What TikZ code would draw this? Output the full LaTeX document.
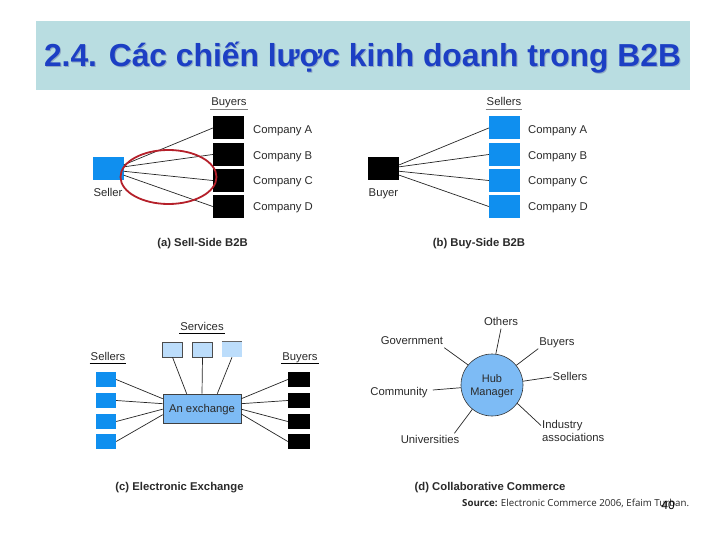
\documentclass[tikz,border=0pt]{standalone}
\usepackage{fontspec}
\setmainfont{Liberation Sans}
\newfontfamily\srcfont{Open Sans}
\definecolor{bandcol}{HTML}{B9DDE1}
\definecolor{titlecol}{HTML}{1C3FC4}
\definecolor{shadowcol}{HTML}{8FA9C4}
\definecolor{sqblue}{HTML}{0F8FEF}
\definecolor{svcblue}{HTML}{BCDDFB}
\definecolor{exblue}{HTML}{7DBBF5}
\definecolor{ringred}{HTML}{B5202A}
\definecolor{txtgray}{HTML}{2A2A2A}
\tikzset{
  lbl/.style={inner sep=1pt,text height=8.5pt,text depth=2.5pt,font=\fontsize{11.3}{13}\selectfont,text=txtgray},
  capt/.style={inner sep=1pt,text height=8.5pt,text depth=2.5pt,font=\fontsize{11.3}{13}\selectfont\bfseries,text=txtgray},
  multi/.style={lbl,text height=,text depth=},
  bigblack/.style={fill=black,minimum width=31pt,minimum height=23pt,inner sep=0pt},
  bigblue/.style={fill=sqblue,minimum width=31pt,minimum height=23pt,inner sep=0pt},
  smallblack/.style={fill=black,minimum width=22pt,minimum height=15pt,inner sep=0pt},
  smallblue/.style={fill=sqblue,minimum width=20pt,minimum height=15pt,inner sep=0pt},
  svc/.style={fill=svcblue,draw=black!70,line width=0.5pt,minimum width=20pt,minimum height=15pt,inner sep=0pt},
  wire/.style={line width=0.7pt,black!85},
  rulegray/.style={line width=1.6pt,black!50},
  rulethin/.style={line width=0.6pt,black}
}
\begin{document}
\begin{tikzpicture}[x=1pt,y=-1pt]
  \useasboundingbox (0,0) rectangle (720,540);
  \fill[white] (0,0) rectangle (720,540);
  \draw
    (363,55.5) node[inner sep=0pt,minimum width=654pt,minimum height=69pt,fill=bandcol] (band){}
    (363.5,58.5) node[font=\fontsize{31.8}{34}\selectfont\bfseries,text=shadowcol] (titleS){2.4. Các chiến lược kinh doanh trong B2B}
    (362.5,57.5) node[font=\fontsize{31.8}{34}\selectfont\bfseries,text=titlecol] (title){2.4. Các chiến lược kinh doanh trong B2B};
  \draw
    (229,103) node[lbl] (hA){Buyers}
    (228.5,128) node[bigblack] (a1){}
    (228.5,154.5) node[bigblack] (a2){}
    (228.5,180.5) node[bigblack] (a3){}
    (228.5,206.5) node[bigblack] (a4){}
    (108,168.5) node[bigblue] (sA){}
    (108,193.7) node[lbl] (tA){Seller}
    (252,130.5) node[lbl,anchor=west] (la1){Company A}
    (252,156.3) node[lbl,anchor=west] (la2){Company B}
    (252,182) node[lbl,anchor=west] (la3){Company C}
    (252,208) node[lbl,anchor=west] (la4){Company D}
    (202.5,244) node[capt] (capA){(a) Sell-Side B2B};
  \draw
    (504,103) node[lbl] (hB){Sellers}
    (504.5,128) node[bigblue] (b1){}
    (504.5,154.5) node[bigblue] (b2){}
    (504.5,180.5) node[bigblue] (b3){}
    (504.5,206.5) node[bigblue] (b4){}
    (383.5,168.5) node[bigblack] (sB){}
    (383.5,193.7) node[lbl] (tB){Buyer}
    (527,130.5) node[lbl,anchor=west] (lb1){Company A}
    (527,156.3) node[lbl,anchor=west] (lb2){Company B}
    (527,182) node[lbl,anchor=west] (lb3){Company C}
    (527,208) node[lbl,anchor=west] (lb4){Company D}
    (479,244) node[capt] (capB){(b) Buy-Side B2B};
  \begin{scope}[wire]
    \draw (sA.13) to (a1.west);
    \draw (sA.6) to (a2.west);
    \draw (sA.-10) to (a3.west);
    \draw (sA.-23) to (a4.west);
    \draw (sB.13) to (b1.west);
    \draw (sB.6) to (b2.west);
    \draw (sB.-10) to (b3.west);
    \draw (sB.-23) to (b4.west);
  \end{scope}
  \draw[rulegray] (hA.south west) to (hA.south east);
  \draw[rulegray] (hB.south west) to (hB.south east);
  \draw[ringred,line width=1.8pt] (168.5,177) ellipse (48 and 27);
  \draw
    (202,327) node[lbl] (hS){Services}
    (108,357) node[lbl] (hL){Sellers}
    (300,357) node[lbl] (hR){Buyers}
    (172.5,349.5) node[svc] (v1){}
    (202.5,349.5) node[svc] (v2){}
    (232,349.5) node[svc,draw=none] (v3){}
    (202,408.5) node[fill=exblue,draw=black!75,line width=0.6pt,minimum width=78pt,minimum height=29pt,inner sep=0pt,text height=9.5pt,text depth=1.5pt,font=\fontsize{11.3}{13}\selectfont,text=txtgray] (ex){An exchange}
    (106,379.5) node[smallblue] (l1){}
    (106,400.5) node[smallblue] (l2){}
    (106,421.5) node[smallblue] (l3){}
    (106,441.5) node[smallblue] (l4){}
    (299,379.5) node[smallblack] (r1){}
    (299,400.5) node[smallblack] (r2){}
    (299,421.5) node[smallblack] (r3){}
    (299,441.5) node[smallblack] (r4){}
    (179.5,487) node[capt] (capC){(c) Electronic Exchange};
  \draw[rulethin] (hS.south west) to (hS.south east);
  \draw[rulethin] (hL.south west) to (hL.south east);
  \draw[rulethin] (hR.south west) to (hR.south east);
  \draw[black!60,line width=0.6pt] (v3.north west) to (v3.north east);
  \begin{scope}[wire]
    \draw (l1.east) to (ex.166);
    \draw (l2.east) to (ex.173);
    \draw (l3.east) to (ex.181);
    \draw (l4.east) to (ex.189.5);
    \draw (r1.west) to (ex.14);
    \draw (r2.west) to (ex.7);
    \draw (r3.west) to (ex.-1);
    \draw (r4.west) to (ex.-8);
    \draw (v1.south) to (ex.136);
    \draw (v2.south) to (ex.north);
    \draw (v3.south) to (ex.44);
  \end{scope}
  \draw
    (492,385) node[circle,fill=exblue,draw=black!80,line width=0.6pt,minimum size=62pt,inner sep=0pt,align=center,font=\fontsize{11}{13}\selectfont,text=txtgray] (hub){\rule{0pt}{11pt}Hub\\Manager}
    (501,322) node[lbl] (d1){Others}
    (412,341) node[lbl] (d2){Government}
    (557,342) node[lbl] (d3){Buyers}
    (570,377) node[lbl] (d4){Sellers}
    (399,392) node[lbl] (d5){Community}
    (430,440) node[lbl] (d6){Universities}
    (541,430.5) node[multi,anchor=west,align=left] (d7){Industry\\associations}
    (490,487) node[capt] (capD){(d) Collaborative Commerce}
    (462,503) node[anchor=west,inner sep=0pt,font=\fontsize{9.7}{11}\srcfont,text=black!85] (src){\textbf{Source:} Electronic Commerce 2006, Efaim Turban.}
    (668,505) node[font=\fontsize{12}{14}\selectfont,inner sep=0pt] (pg){40};
  \begin{scope}[wire]
    \draw (hub.83) to (d1.south);
    \draw (hub.140) to (d2.south east);
    \draw (hub.39) to (d3.south west);
    \draw (hub.7) to (d4.west);
    \draw (hub.185) to ([xshift=4pt,yshift=2pt]d5.east);
    \draw (hub.231) to ([xshift=-6pt]d6.north east);
    \draw (hub.-36) to ([yshift=5pt]d7.west);
  \end{scope}
\end{tikzpicture}
\end{document}
